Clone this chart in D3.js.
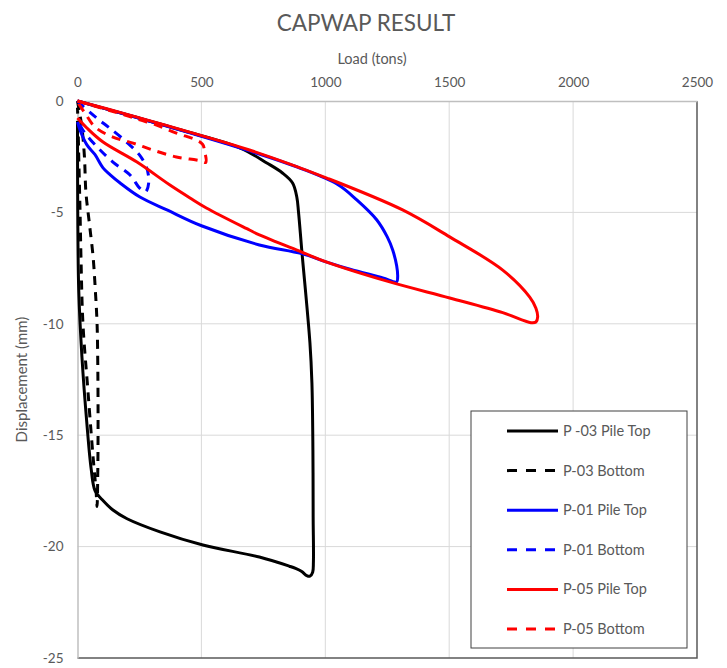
<!DOCTYPE html>
<html>
<head>
<meta charset="utf-8">
<script src="https://cdn.jsdelivr.net/npm/d3@7"></script>
<style>
  body { margin: 0; background: #fff; }
  svg text { font-family: Lato, "Open Sans", sans-serif; fill: #595959; }
</style>
</head>
<body>
<svg id="chart" width="727" height="668"></svg>
<script>
// tick values
let xTickValues = [0, 500, 1000, 1500, 2000, 2500]
let yTickValues = [0, -5, -10, -15, -20, -25]

// series values: [load (tons), displacement (mm)]
let p03Top = [[0, 0], [200, -0.62], [450, -1.4], [657, -2.11], [764, -2.78], [827, -3.23], [868, -3.68],
    [885, -4.31], [892, -5.0], [905, -6.69], [938, -10.86], [946, -12.66], [950, -15.66], [951, -18.67],
    [952, -20.7], [949, -21.15], [938, -21.33], [925, -21.3], [905, -21.12], [880, -20.98], [855, -20.88],
    [734, -20.47], [506, -19.93], [333, -19.34], [200, -18.75], [143, -18.36], [100, -17.9], [71, -17.5],
    [55, -16.5], [38, -14.5], [18, -11.5], [5, -8.5], [1, -5], [0, -0.9]]

let p03Bottom = [[0, 0], [8, -0.5], [18, -1.2], [28, -2.5], [34, -4.1], [48, -5.5], [63, -7.0], [72, -8.5],
    [79, -10.0], [82, -12], [83, -14.45], [82, -16.5], [79, -18.2], [77, -17.9], [75, -17.5], [63, -16.0],
    [42, -13.0], [22, -10.0], [14, -7], [10, -4.8], [5, -2.5], [2, -1], [0, -0.3]]

let p01Top = [[0, 0], [200, -0.62], [450, -1.42], [694, -2.24], [900, -3.02], [1050, -3.75], [1127, -4.44],
    [1208, -5.34], [1250, -6.1], [1272, -6.69], [1288, -7.4], [1292, -7.9], [1288, -8.12], [1232, -7.94],
    [1100, -7.55], [1006, -7.23], [905, -6.85], [734, -6.46], [500, -5.6], [361, -4.89], [252, -4.31],
    [172, -3.68], [131, -3.3], [103, -3.0], [70, -2.4], [38, -1.97], [10, -1.3], [0, -0.94]]

let p01Bottom = [[0, 0], [8, -0.09], [77, -0.76], [129, -1.21], [198, -1.84], [250, -2.42], [278, -2.96],
    [286, -3.32], [287, -3.7], [280, -4.0], [272, -4.08], [250, -3.9], [212, -3.32], [143, -2.74],
    [79, -2.06], [30, -1.44], [10, -1.08], [0, -0.85]]

let p05Top = [[0, 0], [200, -0.6], [494, -1.53], [694, -2.2], [1006, -3.46], [1312, -4.89], [1502, -6.1],
    [1716, -7.59], [1825, -8.8], [1850, -9.3], [1857, -9.69], [1850, -9.92], [1830, -9.95], [1716, -9.5],
    [1502, -8.84], [1260, -8.12], [1006, -7.23], [905, -6.78], [734, -6.01], [694, -5.79], [520, -4.8],
    [454, -4.35], [373, -3.77], [240, -2.74], [103, -1.84], [38, -1.21], [0, -0.76]]

let p05Bottom = [[0, 0], [60, -0.2], [191, -0.63], [252, -0.85], [319, -1.08], [399, -1.44], [480, -1.75],
    [505, -1.95], [514, -2.3], [518, -2.75], [500, -2.7], [480, -2.65], [399, -2.51], [304, -2.2],
    [224, -1.89], [143, -1.62], [71, -1.17], [30, -0.54], [0, -0.05]]

let seriesNames = ["P -03 Pile Top", "P-03 Bottom", "P-01 Pile Top", "P-01 Bottom", "P-05 Pile Top", "P-05 Bottom"]
let seriesData = [p03Top, p03Bottom, p01Top, p01Bottom, p05Top, p05Bottom]
let seriesColors = ["#000000", "#000000", "#0000ff", "#0000ff", "#ff0000", "#ff0000"]
let seriesDashed = [false, true, false, true, false, true]

let svg = d3.select("#chart")

// plot area
let plotLeft = 77.5, plotRight = 697, plotTop = 101, plotBottom = 658

let xScale = d3.scaleLinear().domain([0, 2500]).range([plotLeft, plotRight])
let yScale = d3.scaleLinear().domain([-25, 0]).range([plotBottom, plotTop])

// gridlines
svg.append("g")
    .selectAll("line")
    .data(xTickValues.slice(1, -1))
    .join("line")
    .attr("x1", d => xScale(d)).attr("x2", d => xScale(d))
    .attr("y1", plotTop).attr("y2", plotBottom)
    .style("stroke", "#d9d9d9").style("stroke-width", 1)
svg.append("g")
    .selectAll("line")
    .data(yTickValues.slice(1, -1))
    .join("line")
    .attr("x1", plotLeft).attr("x2", plotRight)
    .attr("y1", d => yScale(d)).attr("y2", d => yScale(d))
    .style("stroke", "#d9d9d9").style("stroke-width", 1)

// bottom and right border (dark)
svg.append("path")
    .attr("d", "M" + plotLeft + "," + plotBottom + "H" + plotRight + "V" + plotTop)
    .style("fill", "none").style("stroke", "#595959").style("stroke-width", 1.5)

// plain labels, hyphen minus like the original
let plainFormat = d => String(d)

// x axis on top
let xAxis = d3.axisTop(xScale).tickValues(xTickValues).tickFormat(plainFormat).tickSize(0).tickPadding(14)
let gx = svg.append("g").attr("transform", "translate(0," + plotTop + ")").call(xAxis)
gx.select(".domain").style("stroke", "#bfbfbf").style("stroke-width", 1.5)
gx.selectAll("text").style("font-size", "13.5px").style("font-family", "Lato").style("fill", "#595959")

// y axis on the left
let yAxis = d3.axisLeft(yScale).tickValues(yTickValues).tickFormat(plainFormat).tickSize(0).tickPadding(14)
let gy = svg.append("g").attr("transform", "translate(" + plotLeft + ",0)").call(yAxis)
gy.select(".domain").style("stroke", "#bfbfbf").style("stroke-width", 1.5)
gy.selectAll("text").style("font-size", "13.5px").style("font-family", "Lato").style("fill", "#595959")

// series
let line = d3.line()
    .x(d => xScale(d[0]))
    .y(d => yScale(d[1]))
    .curve(d3.curveCatmullRom.alpha(0.5))

svg.append("g")
    .selectAll("path")
    .data(seriesData)
    .join("path")
    .attr("d", d => line(d))
    .style("fill", "none")
    .style("stroke", (d, i) => seriesColors[i])
    .style("stroke-width", 3)
    .style("stroke-linejoin", "round")
    .style("stroke-dasharray", (d, i) => seriesDashed[i] ? "9,7" : null)

// titles
svg.append("text")
    .attr("x", 366).attr("y", 31)
    .attr("text-anchor", "middle")
    .style("font-size", "22.5px")
    .text("CAPWAP RESULT")
svg.append("text")
    .attr("x", 372).attr("y", 64)
    .attr("text-anchor", "middle")
    .style("font-size", "14.5px")
    .text("Load (tons)")
svg.append("text")
    .attr("transform", "translate(27," + ((plotTop + plotBottom) / 2) + ") rotate(-90)")
    .attr("text-anchor", "middle")
    .style("font-size", "15px")
    .text("Displacement (mm)")

// legend
let legend = svg.append("g")
legend.append("rect")
    .attr("x", 471).attr("y", 411)
    .attr("width", 216).attr("height", 237)
    .style("fill", "#fff").style("stroke", "#404040").style("stroke-width", 1)

let legendItem = legend.selectAll("g.item")
    .data(seriesNames)
    .join("g")
    .attr("class", "item")
    .attr("transform", (d, i) => "translate(0," + (431 + i * 39.6) + ")")
legendItem.append("line")
    .attr("x1", 507).attr("x2", 558)
    .attr("y1", 0).attr("y2", 0)
    .style("stroke", (d, i) => seriesColors[i])
    .style("stroke-width", 3)
    .style("stroke-dasharray", (d, i) => seriesDashed[i] ? "10,9" : null)
legendItem.append("text")
    .attr("x", 563).attr("y", 5)
    .style("font-size", "14.5px")
    .text(d => d)
</script>
</body>
</html>
